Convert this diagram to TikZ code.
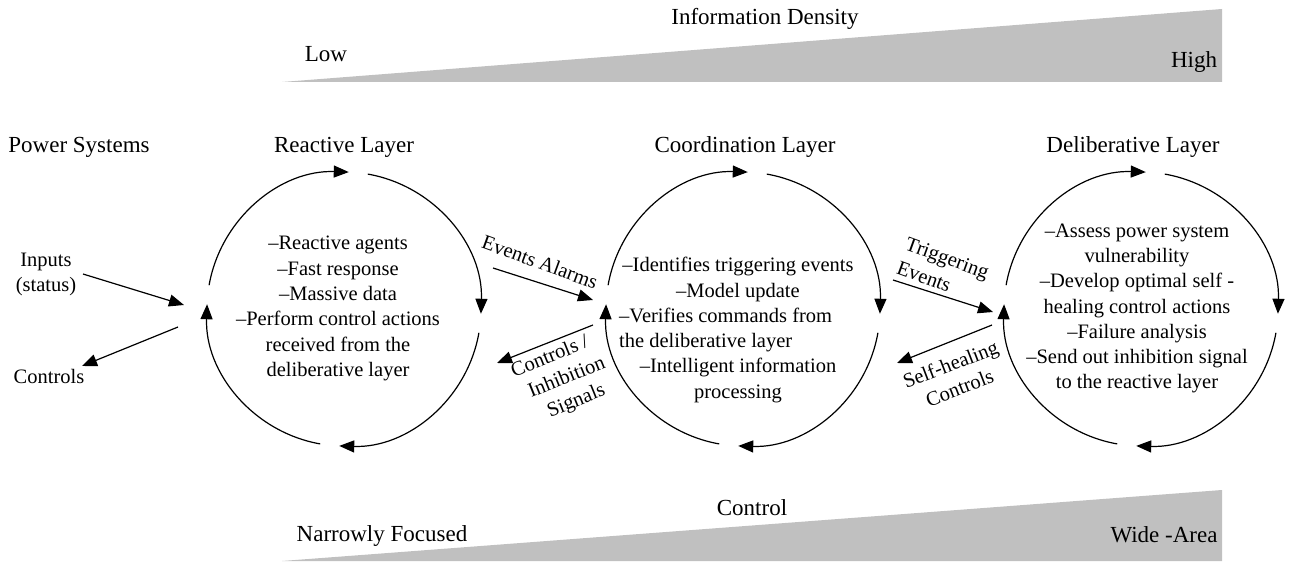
\documentclass[tikz,border=0pt]{standalone}
\usepackage{fontspec}
\setmainfont{Liberation Serif}
\usetikzlibrary{arrows.meta}
\definecolor{wedgegray}{RGB}{192,192,192}
\begin{document}
\begin{tikzpicture}[x=1pt,y=1pt,
  cyc/.style={line width=1.2pt, -{Triangle[length=15pt,width=12pt]}},
  conn/.style={line width=1.2pt, -{Triangle[length=15pt,width=12pt]}},
  body/.style={font=\fontsize{20.5}{25.3}\selectfont, align=center, inner sep=0pt},
  lab/.style={font=\fontsize{20.5}{25.3}\selectfont, align=center, inner sep=0pt},
  title/.style={font=\fontsize{23}{28}\selectfont, inner sep=0pt, anchor=base}]
\useasboundingbox (0,0) rectangle (1290,563);

% wedges
\fill[wedgegray] (282,481) -- (1222,481) -- (1222,554) -- cycle;
\fill[wedgegray] (282,2) -- (1222,2) -- (1222,73) -- cycle;

% wedge labels
\node[title] (infod) at (765,538) {Information Density};
\node[title] (lowlab) at (326,501) {Low};
\node[title] (highlab) at (1194,495) {High};
\node[title] (ctrl) at (752,48) {Control};
\node[title] (narrow) at (382,22) {Narrowly Focused};
\node[title] (wide) at (1164,21) {Wide -Area};

% titles
\node[title] (ps) at (79,410) {Power Systems};
\node[title] (rl) at (344,410) {Reactive Layer};
\node[title] (cl) at (745,410) {Coordination Layer};
\node[title] (dl) at (1133,410) {Deliberative Layer};

% circle centres
\coordinate (R) at (344,254);
\coordinate (C) at (743,254);
\coordinate (D) at (1141,254);

\foreach \c in {R,C,D}{
  \foreach \k [evaluate=\k as \a using 170-90*\k, evaluate=\k as \b using 88-90*\k] in {0,1,2,3}{
    \draw[cyc] (\c) ++(\a:137) arc[start angle=\a, end angle=\b, radius=137];
  }
}

% circle texts
\node[body] (rtext) at (338,254.5) {–Reactive agents\\–Fast response\\–Massive data\\–Perform control actions\\received from the\\deliberative layer};
\node[body] (ctext1) at (738,283.5) {–Identifies triggering events\\–Model update};
\node[body, align=left, anchor=west] (ctext2) at (619,233) {–Verifies commands from\\the deliberative layer};
\node[body] (ctext3) at (738,182.5) {–Intelligent information\\processing};
\node[body] (dtext) at (1137,254.5) {–Assess power system\\vulnerability\\–Develop optimal self -\\healing control actions\\–Failure analysis\\–Send out inhibition signal\\to the reactive layer};

% left side
\node[lab] (inputs) at (46,288.5) {Inputs\\(status)};
\node[lab] (controls) at (49,187) {Controls};
\coordinate (inA) at (83,289);
\coordinate (inB) at (184,258);
\coordinate (coA) at (178,236);
\coordinate (coB) at (82,197);
\draw[conn] (inA) -- (inB);
\draw[conn] (coA) -- (coB);

% reactive <-> coordination
\coordinate (evA) at (493,295);
\coordinate (evB) at (593,263);
\coordinate (ciA) at (593,238);
\coordinate (ciB) at (497,200);
\draw[conn] (evA) -- (evB);
\draw[conn] (ciA) -- (ciB);
\node[lab, rotate=-20] (ev) at (540,301) {Events Alarms};
\node[lab, rotate=22] (ci) at (567,185) {Controls /\hspace*{16pt}\\Inhibition\\Signals};

% coordination <-> deliberative
\coordinate (teA) at (893,283);
\coordinate (teB) at (993,251);
\coordinate (shA) at (992,238);
\coordinate (shB) at (897,200);
\draw[conn] (teA) -- (teB);
\draw[conn] (shA) -- (shB);
\node[lab, rotate=-20, align=left] (te) at (943,293) {Triggering\\Events};
\node[lab, rotate=21] (sh) at (955,187) {Self-healing\\Controls};
\end{tikzpicture}
\end{document}
